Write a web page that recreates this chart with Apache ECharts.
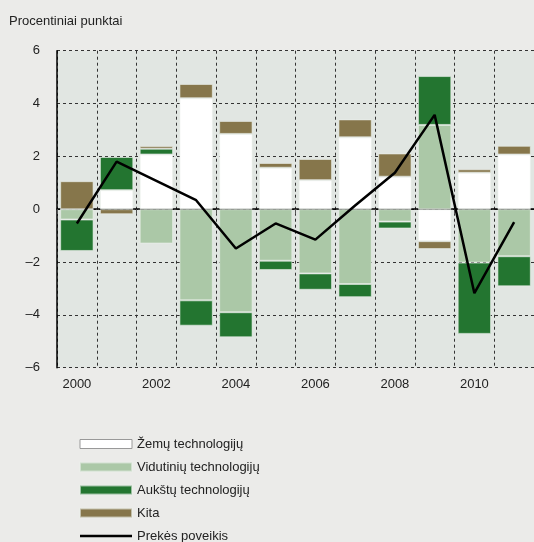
<!DOCTYPE html>
<html>
<head>
<meta charset="UTF-8">
<title>Prekės poveikis</title>
<script src="https://cdn.jsdelivr.net/npm/echarts@6/dist/echarts.min.js"></script>
<style>
  * { margin: 0; padding: 0; }
  body { background: #ebebe9; }
  #chart { width: 534px; height: 542px; }
</style>
</head>
<body>
<div id="chart"></div>
<script>
// metai
var years = ['2000', '2001', '2002', '2003', '2004', '2005', '2006', '2007', '2008', '2009', '2010', '2011'];
// technologiju grupiu indeliai, proc. punktai
var zemu      = [0, 0.72, 2.07, 4.20, 2.85, 1.57, 1.10, 2.72, 1.23, -1.21, 1.38, 2.07];
var vidutiniu = [-0.39, 0, -1.30, -3.45, -3.90, -1.95, -2.43, -2.83, -0.47, 3.19, -2.02, -1.78];
var aukstu    = [-1.19, 1.26, 0.22, -0.96, -0.95, -0.35, -0.62, -0.50, -0.26, 1.85, -2.70, -1.14];
var kita      = [1.06, -0.19, 0.10, 0.54, 0.49, 0.18, 0.80, 0.68, 0.88, -0.30, 0.13, 0.33];
var poveikis  = [-0.54, 1.80, 1.07, 0.34, -1.49, -0.54, -1.15, 0.14, 1.38, 3.57, -3.18, -0.49];
var yTicks = [-6, -4, -2, 0, 2, 4, 6];

var font = 'Liberation Sans, Arial, sans-serif';
var chart = echarts.init(document.getElementById('chart'));

function bar(name, data, color) {
  return {
    name: name,
    type: 'bar',
    stack: 'a',
    data: data,
    barCategoryGap: '16%',
    itemStyle: { color: color, borderColor: 'rgba(235,240,235,0.6)', borderWidth: 1 }
  };
}

chart.setOption({
  backgroundColor: '#ebebe9',
  animation: false,
  title: {
    text: 'Procentiniai punktai',
    left: 4, top: 10,
    textStyle: { fontFamily: font, fontSize: 13, fontWeight: 'normal', color: '#222' }
  },
  grid: { left: 57, top: 50.7, width: 486, height: 317, show: true, backgroundColor: '#e1e6e2', borderWidth: 0 },
  legend: {
    orient: 'vertical',
    left: 79, top: 437.5, height: 110,
    padding: 0,
    itemWidth: 52, itemHeight: 9, itemGap: 10,
    icon: 'rect',
    textStyle: { fontFamily: font, fontSize: 13, color: '#222' },
    data: [
      { name: 'Žemų technologijų', itemStyle: { borderColor: '#999', borderWidth: 1 } },
      'Vidutinių technologijų',
      'Aukštų technologijų',
      'Kita',
      { name: 'Prekės poveikis', icon: 'path://M0,0 L52,0 L52,2.5 L0,2.5 Z' }
    ]
  },
  xAxis: {
    type: 'category',
    data: years,
    axisLine: { lineStyle: { color: '#000', width: 1.5 } },
    axisTick: { show: true, length: 5, lineStyle: { color: '#555' } },
    axisLabel: { interval: 1, fontFamily: font, fontSize: 13, color: '#222', margin: 10 },
    splitLine: { show: true, interval: 0, lineStyle: { color: '#333', type: [3, 3], width: 1 } }
  },
  yAxis: {
    type: 'value',
    min: -6, max: 6, interval: 2,
    axisLine: { show: true, lineStyle: { color: '#000', width: 1.5 } },
    axisTick: { show: false },
    axisLabel: {
      fontFamily: font, fontSize: 13, color: '#222', margin: 17,
      formatter: function (v) { return yTicks.indexOf(v) >= 0 ? String(v).replace('-', '–') : ''; }
    },
    splitLine: { lineStyle: { color: '#333', type: [3, 3], width: 1 } }
  },
  series: [
    bar('Žemų technologijų', zemu, '#ffffff'),
    bar('Vidutinių technologijų', vidutiniu, '#abc8a7'),
    bar('Aukštų technologijų', aukstu, '#237530'),
    bar('Kita', kita, '#86764b'),
    {
      name: 'Prekės poveikis',
      type: 'line',
      data: poveikis,
      symbol: 'none',
      lineStyle: { color: '#000', width: 2.5 },
      itemStyle: { color: '#000' },
      z: 5
    }
  ]
});
</script>
</body>
</html>
